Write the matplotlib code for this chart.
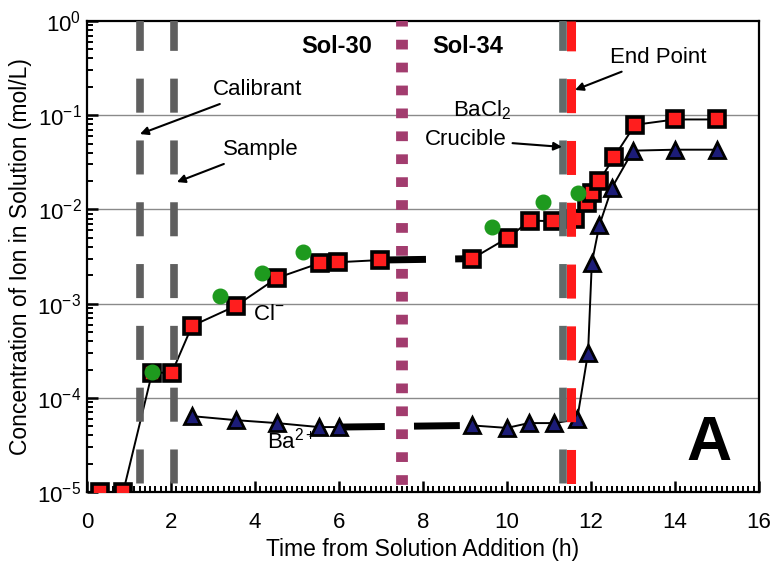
import numpy as np
import matplotlib
matplotlib.use("Agg")
import matplotlib.pyplot as plt
from matplotlib.ticker import FixedLocator, FixedFormatter, LogLocator, MultipleLocator, NullFormatter

plt.rcParams['font.family'] = ['Liberation Sans', 'DejaVu Sans']
plt.rcParams['mathtext.fontset'] = 'custom'
plt.rcParams['mathtext.rm'] = 'Liberation Sans'
plt.rcParams['mathtext.it'] = 'Liberation Sans:italic'
plt.rcParams['mathtext.bf'] = 'Liberation Sans:bold'
plt.rcParams['lines.scale_dashes'] = False

# Cl- (red squares), Sol-30 and Sol-34
cl_t_30 = [0.31, 0.86, 1.55, 2.02, 2.5, 3.55, 4.52, 5.55, 5.98, 6.98]
cl_c_30 = [1e-5, 1e-5, 1.85e-4, 1.85e-4, 5.8e-4, 9.5e-4, 1.87e-3, 2.7e-3, 2.75e-3, 2.9e-3]
cl_t_34 = [9.17, 10.02, 10.55, 11.1, 11.62, 11.9, 12.02, 12.2, 12.55, 13.05, 14.0, 15.0]
cl_c_34 = [3.0e-3, 5.0e-3, 7.6e-3, 7.5e-3, 8.0e-3, 1.17e-2, 1.5e-2, 2.0e-2, 3.6e-2, 7.9e-2, 9.0e-2, 9.0e-2]

# Ba2+ (blue triangles)
ba_t_30 = [2.5, 3.55, 4.52, 5.52, 6.0]
ba_c_30 = [6.4e-5, 5.8e-5, 5.4e-5, 4.9e-5, 4.9e-5]
ba_t_34 = [9.17, 10.0, 10.52, 11.12, 11.67, 11.93, 12.02, 12.2, 12.5, 13.0, 14.0, 15.0]
ba_c_34 = [5.1e-5, 4.8e-5, 5.4e-5, 5.4e-5, 5.9e-5, 3.0e-4, 2.7e-3, 6.8e-3, 1.7e-2, 4.2e-2, 4.3e-2, 4.3e-2]

# green circles (ISE Cl- readings)
gr_t = [1.55, 3.17, 4.16, 5.15, 9.64, 10.86, 11.7]
gr_c = [1.9e-4, 1.2e-3, 2.1e-3, 3.5e-3, 6.5e-3, 1.2e-2, 1.5e-2]

# event times
t_calibrant = 1.26
t_sample = 2.08
t_switch = 7.5
t_crucible = 11.33
t_endpoint = 11.52

ytick_vals = [1e-5, 1e-4, 1e-3, 1e-2, 1e-1, 1e0]
ytick_text = [r'$10^{-5}$', r'$10^{-4}$', r'$10^{-3}$', r'$10^{-2}$', r'$10^{-1}$', r'$10^{0}$']

fig = plt.figure(figsize=(7.75, 5.65), dpi=100)
ax = fig.add_axes([0.1123, 0.129, 0.867, 0.834])
ax.set_yscale('log')
ax.set_xlim(0, 16)
ax.set_ylim(1e-5, 1)

for y in ytick_vals[1:-1]:
    ax.axhline(y, color='#8a8a8a', lw=1.0, zorder=1)

sq = dict(marker='s', ms=11, mfc='#ff1e1e', mec='black', mew=2.6, color='black', lw=1.4)
tri = dict(marker='^', ms=11, mfc='#1c1c78', mec='black', mew=2.0, color='black', lw=1.4)

ax.plot(cl_t_30, cl_c_30, zorder=4, **sq)
ax.plot(cl_t_34, cl_c_34, zorder=4, **sq)
ax.plot(ba_t_30, ba_c_30, zorder=4, **tri)
ax.plot(ba_t_34, ba_c_34, zorder=4, **tri)

# bridging lines across the solution change
gap = (0, (33, 21))
ax.plot([cl_t_30[-1], cl_t_34[0]], [cl_c_30[-1], cl_c_34[0]], color='black', lw=5, ls=gap, zorder=3)
ax.plot([ba_t_30[-1], ba_t_34[0]], [ba_c_30[-1], ba_c_34[0]], color='black', lw=5, ls=gap, zorder=3)

ax.plot(gr_t, gr_c, 'o', ms=10.5, color='#1e9a1e', mec='#1e9a1e', zorder=5)

# vertical markers (drawn top to bottom so dashes start at the top)
vd = (3, (24.5, 20))
for t, c in [(t_calibrant, '#5f5f5f'), (t_sample, '#5f5f5f'), (t_crucible, '#5f6a6a'), (t_endpoint, '#ff1a1a')]:
    ax.plot([t, t], [1, 1e-5], color=c, lw=5.5 if c != '#ff1a1a' else 6.5, ls=vd,
            solid_capstyle='butt', dash_capstyle='butt', zorder=6)
ax.plot([t_switch, t_switch], [1, 1e-5], color='#a23c6e', lw=8.5, ls=(3, (7, 9.5)),
        dash_capstyle='butt', zorder=6)

ax.yaxis.set_major_locator(FixedLocator(ytick_vals))
ax.yaxis.set_major_formatter(FixedFormatter(ytick_text))
ax.yaxis.set_minor_locator(LogLocator(base=10, subs=np.arange(2, 10)))
ax.yaxis.set_minor_formatter(NullFormatter())
ax.xaxis.set_major_locator(MultipleLocator(2))
ax.xaxis.set_minor_locator(MultipleLocator(0.125))
ax.tick_params(axis='both', which='major', direction='in', length=8, width=1.8, labelsize=16)
ax.tick_params(axis='both', which='minor', direction='in', length=4.5, width=1.4)
ax.tick_params(axis='x', pad=14)
ax.tick_params(axis='y', pad=4)
for s in ax.spines.values():
    s.set_linewidth(1.6)

ax.set_xlabel('Time from Solution Addition (h)', fontsize=16.5, labelpad=4)
ax.set_ylabel('Concentration of Ion in Solution (mol/L)', fontsize=16.5, labelpad=4)

ap = dict(arrowstyle='-|>', color='black', lw=1.5, mutation_scale=12, shrinkA=2, shrinkB=0)
ax.annotate('Calibrant', xy=(t_calibrant, 0.063), xytext=(3.0, 0.186), fontsize=16,
            ha='left', va='center', arrowprops=ap, zorder=7)
ax.annotate('Sample', xy=(2.14, 0.0195), xytext=(3.24, 0.043), fontsize=16,
            ha='left', va='center', arrowprops=ap, zorder=7)
ax.annotate('End Point', xy=(11.62, 0.185), xytext=(12.45, 0.41), fontsize=16,
            ha='left', va='center', arrowprops=ap, zorder=7)
ax.text(10.1, 0.113, r'BaCl$_2$', fontsize=16, ha='right', va='center', zorder=7)
ax.annotate('Crucible', xy=(11.31, 0.046), xytext=(10.0, 0.055), fontsize=16,
            ha='right', va='center', arrowprops=ap, zorder=7)

ax.text(5.95, 0.53, 'Sol-30', fontsize=17, fontweight='bold', ha='center', va='center')
ax.text(9.07, 0.53, 'Sol-34', fontsize=17, fontweight='bold', ha='center', va='center')
ax.text(3.95, 7.6e-4, r'Cl$^{-}$', fontsize=16, ha='left', va='center')
ax.text(4.29, 3.5e-5, r'Ba$^{2+}$', fontsize=16, ha='left', va='center')
ax.text(14.8, 3.3e-5, 'A', fontsize=45, fontweight='bold', ha='center', va='center')

fig.savefig('out.png', dpi=100)
